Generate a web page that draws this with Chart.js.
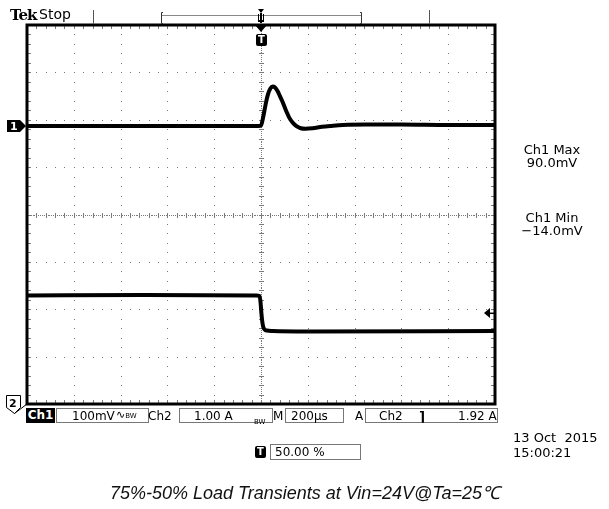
<!DOCTYPE html>
<html lang="en">
<head>
    <meta charset="UTF-8">
    <title>Load Transients</title>
    <script src="https://cdn.jsdelivr.net/npm/chart.js"></script>
    <style>
        body { margin: 0; background: #fff; }
        #wrap { position: relative; width: 609px; height: 509px; overflow: hidden; }
        canvas { position: absolute; left: 0; top: 0; }
        .t { position: absolute; font-family: "DejaVu Sans", sans-serif; color: #000; white-space: pre; line-height: 1; }
        .box { position: absolute; border: 1px solid #777; height: 13px; top: 408px; }
        .sm { font-size: 7px; }
        .ticon { position: absolute; background: #000; color: #fff; font: bold 10px "DejaVu Sans", sans-serif;
                 width: 11px; height: 12px; line-height: 12px; text-align: center; border-radius: 2px; }
        #caption { position: absolute; left: 0; width: 610px; top: 480px; text-align: center;
                   font: italic 18px "Liberation Sans", Arial, sans-serif; color: #111; }
    </style>
</head>
<body>
<div id="wrap">
    <canvas id="scope" width="609" height="509"></canvas>

    <div class="t" style="left:10px;top:6px;font:bold 15px 'DejaVu Serif',serif;letter-spacing:-1px">Tek</div>
    <div class="t" style="left:39px;top:7px;font-size:14px">Stop</div>
    <div class="ticon" style="left:256px;top:34px">T</div>

    <div class="t" style="left:10px;top:120px;color:#fff;font:bold 11px 'DejaVu Sans',sans-serif">1</div>
    <div class="t" style="left:9px;top:397px;font:bold 11px 'DejaVu Sans',sans-serif">2</div>

    <div class="t" style="left:512px;top:143px;width:80px;text-align:center;font-size:13px">Ch1 Max</div>
    <div class="t" style="left:512px;top:156px;width:80px;text-align:center;font-size:13px">90.0mV</div>
    <div class="t" style="left:512px;top:211px;width:80px;text-align:center;font-size:13px">Ch1 Min</div>
    <div class="t" style="left:512px;top:224px;width:80px;text-align:center;font-size:13px">−14.0mV</div>

    <!-- status bar -->
    <div class="t" style="left:26px;top:408px;width:29px;height:15px;background:#000;color:#fff;font-weight:bold;font-size:12px;text-align:center;line-height:15px">Ch1</div>
    <div class="box" style="left:56px;width:91px"></div>
    <div class="t" style="left:72px;top:410px;font-size:12px">100mV</div>
    <div class="t" style="left:116px;top:409px;font-size:11px">∿<span class="sm">B</span><span class="sm">W</span></div>
    <div class="t" style="left:148px;top:410px;font-size:12px">Ch2</div>
    <div class="box" style="left:179px;width:92px"></div>
    <div class="t" style="left:194px;top:410px;font-size:12px">1.00 A</div>
    <div class="t" style="left:254px;top:411px"><span class="sm">B</span><span class="sm">W</span></div>
    <div class="t" style="left:273px;top:410px;font-size:12px">M</div>
    <div class="box" style="left:285px;width:57px"></div>
    <div class="t" style="left:291px;top:410px;font-size:12px">200µs</div>
    <div class="t" style="left:355px;top:410px;font-size:12px">A</div>
    <div class="box" style="left:365px;width:131px"></div>
    <div class="t" style="left:379px;top:410px;font-size:12px">Ch2</div>
    <div class="t" style="left:419px;top:409px;font:bold 13px 'DejaVu Sans',sans-serif">⌉</div>
    <div class="t" style="left:458px;top:410px;font-size:12px">1.92 A</div>

    <div class="t" style="left:513px;top:431px;font-size:13px">13 Oct  2015</div>
    <div class="t" style="left:513px;top:446px;font-size:13px">15:00:21</div>

    <div class="ticon" style="left:255px;top:446px">T</div>
    <div class="box" style="left:270px;top:444px;width:89px;height:14px"></div>
    <div class="t" style="left:275px;top:446px;font-size:12px">50.00 %</div>

    <div id="caption">75%-50% Load Transients at Vin=24V@Ta=25℃</div>
</div>

<script>
    // Ch1: output voltage deviation (mV), time in µs from trigger
    const ch1Time = [-1000, -500, -10, 0, 10, 20, 30, 40, 50, 60, 70, 80, 90, 100, 110, 120, 135, 150, 170, 190, 220, 260, 300, 350, 450, 600, 800, 1000];
    const ch1mV   = [0, 0, 0, 1, 20, 46, 67, 79, 83, 81, 74, 64, 53, 41, 29, 18, 7, 0, -5, -6, -5, -2, 0, 2, 3, 3, 2, 2];

    // Ch2: load current (A)
    const ch2Time = [-1000, -500, -20, -6, -2, 2, 6, 10, 16, 25, 50, 200, 1000];
    const ch2Amp  = [2.29, 2.30, 2.29, 2.28, 2.15, 1.9, 1.72, 1.62, 1.57, 1.55, 1.54, 1.53, 1.54];

    // scope settings
    const ch1VoltsPerDiv = 100;   // mV/div
    const ch2AmpsPerDiv = 1;      // A/div
    const ch1Position = 1.87;     // divisions above centre
    const ch2Position = -4;       // divisions
    const triggerLevel = 1.92;    // A

    const toDiv = (vals, perDiv, pos) => vals.map(v => v / perDiv + pos);
    const pts = (t, v) => t.map((x, i) => ({ x: x, y: v[i] }));

    const graticule = {
        id: 'graticule',
        beforeDatasetsDraw(chart) {
            const { ctx, chartArea: a, scales: { x, y } } = chart;
            ctx.save();
            ctx.fillStyle = '#7a7a7a';
            // dotted division lines
            for (let i = 1; i < 10; i++) {
                if (i === 5) continue;
                const px = Math.round(x.getPixelForValue(-1000 + i * 200));
                for (let j = 0; j <= 40; j++) {
                    ctx.fillRect(px, Math.round(y.getPixelForValue(-4 + j * 0.2)), 1, 1);
                }
            }
            for (let j = 1; j < 8; j++) {
                if (j === 4) continue;
                const py = Math.round(y.getPixelForValue(-4 + j));
                for (let i = 0; i <= 50; i++) {
                    ctx.fillRect(Math.round(x.getPixelForValue(-1000 + i * 40)), py, 1, 1);
                }
            }
            // centre lines with minor ticks
            const cx = Math.round(x.getPixelForValue(0));
            const cy = Math.round(y.getPixelForValue(0));
            for (let j = 0; j <= 200; j++) {
                ctx.fillRect(cx, Math.round(y.getPixelForValue(-4 + j * 0.04)), 1, 1);
            }
            for (let i = 0; i <= 250; i++) {
                ctx.fillRect(Math.round(x.getPixelForValue(-1000 + i * 8)), cy, 1, 1);
            }
            for (let j = 0; j <= 40; j++) {
                const py = Math.round(y.getPixelForValue(-4 + j * 0.2));
                ctx.fillRect(cx - 2, py, 5, 1);
                ctx.fillRect(a.left, py, 4, 1);
                ctx.fillRect(a.right - 4, py, 4, 1);
            }
            for (let i = 0; i <= 50; i++) {
                const px = Math.round(x.getPixelForValue(-1000 + i * 40));
                ctx.fillRect(px, cy - 2, 1, 5);
                ctx.fillRect(px, a.top, 1, 4);
                ctx.fillRect(px, a.bottom - 4, 1, 4);
            }
            ctx.restore();
        },
        afterDraw(chart) {
            const { ctx, chartArea: a, scales: { x, y } } = chart;
            ctx.save();
            // frame
            ctx.strokeStyle = '#000';
            ctx.lineWidth = 3;
            ctx.strokeRect(a.left, a.top, a.right - a.left, a.bottom - a.top);

            // record bar at the top
            ctx.lineWidth = 1;
            ctx.strokeStyle = '#555';
            ctx.beginPath();
            ctx.moveTo(93.5, 10); ctx.lineTo(93.5, 24);
            ctx.moveTo(429.5, 10); ctx.lineTo(429.5, 24);
            ctx.stroke();
            ctx.strokeStyle = '#888';
            ctx.beginPath();
            ctx.moveTo(161, 15.5); ctx.lineTo(362, 15.5);
            ctx.stroke();
            ctx.strokeStyle = '#333';
            ctx.beginPath();
            ctx.moveTo(163, 12.5); ctx.lineTo(161.5, 12.5); ctx.lineTo(161.5, 23.5); ctx.lineTo(163, 23.5);
            ctx.moveTo(360, 12.5); ctx.lineTo(361.5, 12.5); ctx.lineTo(361.5, 23.5); ctx.lineTo(360, 23.5);
            ctx.stroke();

            const cx = x.getPixelForValue(0);
            ctx.fillStyle = '#000';
            // trigger position marker in record bar
            ctx.beginPath();
            ctx.moveTo(cx - 3, 9); ctx.lineTo(cx + 3, 9); ctx.lineTo(cx, 13); ctx.closePath();
            ctx.fill();
            ctx.fillRect(cx - 3, 14, 1, 6);
            ctx.fillRect(cx + 2, 14, 1, 6);
            ctx.fillRect(cx - 1, 13, 2, 10);
            ctx.fillRect(cx - 3, 20, 6, 2);
            // trigger arrow on the frame
            ctx.beginPath();
            ctx.moveTo(cx - 6, a.top); ctx.lineTo(cx + 6, a.top); ctx.lineTo(cx, a.top + 7); ctx.closePath();
            ctx.fill();

            // Ch1 ground marker
            const g1 = y.getPixelForValue(ch1Position);
            ctx.beginPath();
            ctx.moveTo(7, g1 - 6); ctx.lineTo(20, g1 - 6); ctx.lineTo(26, g1); ctx.lineTo(20, g1 + 6);
            ctx.lineTo(7, g1 + 6); ctx.closePath();
            ctx.fill();

            // Ch2 ground marker (at bottom edge)
            ctx.fillStyle = '#fff';
            ctx.strokeStyle = '#000';
            ctx.lineWidth = 1;
            ctx.beginPath();
            ctx.moveTo(6.5, 395.5); ctx.lineTo(20.5, 395.5); ctx.lineTo(20.5, 407.5); ctx.lineTo(14.5, 413.5);
            ctx.lineTo(6.5, 407.5); ctx.closePath();
            ctx.fill();
            ctx.stroke();
            ctx.beginPath();
            ctx.moveTo(14.5, 413.5); ctx.lineTo(a.left, a.bottom);
            ctx.stroke();

            // trigger level arrow on the right
            const ty = y.getPixelForValue(triggerLevel / ch2AmpsPerDiv + ch2Position);
            ctx.fillStyle = '#000';
            ctx.beginPath();
            ctx.moveTo(a.right - 11, ty); ctx.lineTo(a.right - 5, ty - 5); ctx.lineTo(a.right - 5, ty + 5); ctx.closePath();
            ctx.fill();
            ctx.fillRect(a.right - 6, ty - 0.5, 6, 1.5);
            ctx.restore();
        }
    };

    new Chart(document.getElementById('scope').getContext('2d'), {
        type: 'scatter',
        data: {
            datasets: [{
                label: 'Ch1',
                data: pts(ch1Time, toDiv(ch1mV, ch1VoltsPerDiv, ch1Position)),
                showLine: true,
                borderColor: '#000',
                borderWidth: 4,
                pointRadius: 0,
                cubicInterpolationMode: 'monotone'
            }, {
                label: 'Ch2',
                data: pts(ch2Time, toDiv(ch2Amp, ch2AmpsPerDiv, ch2Position)),
                showLine: true,
                borderColor: '#000',
                borderWidth: 4,
                pointRadius: 0,
                cubicInterpolationMode: 'monotone'
            }]
        },
        options: {
            responsive: false,
            animation: false,
            layout: { padding: { left: 27, top: 25, right: 114, bottom: 105 } },
            plugins: { legend: { display: false }, tooltip: { enabled: false } },
            scales: {
                x: { type: 'linear', min: -1000, max: 1000, display: false },
                y: { type: 'linear', min: -4, max: 4, display: false }
            }
        },
        plugins: [graticule]
    });
</script>
</body>
</html>
